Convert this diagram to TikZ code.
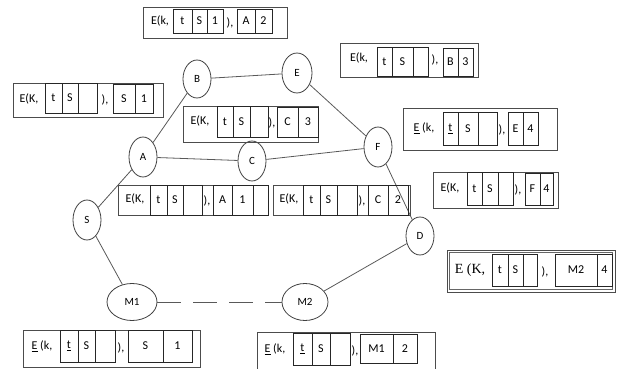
\documentclass[tikz,border=0pt]{standalone}
\usepackage{fontspec}
\setmainfont{Carlito}
\newfontfamily\serifb{Liberation Serif}
\usetikzlibrary{shapes.geometric,calc}
\tikzset{
 vert/.style={ellipse, draw=black!75, line width=0.8pt, inner sep=0pt, font=\fontsize{11}{12}\selectfont},
 edge/.style={draw=black!65, line width=0.8pt},
 outer/.style={draw=black!70, line width=0.9pt, inner sep=0pt},
 cell/.style={draw=black!85, line width=0.8pt, inner sep=0pt, font=\fontsize{12}{13}\selectfont},
 lbl/.style={inner sep=0pt, font=\fontsize{12}{13}\selectfont}
}
\newcommand\cellbox[6]{\node[cell, minimum width={#3pt-#2pt}, minimum height={#5pt-#4pt}] (#1) at ({(#2+#3)/2},{(#4+#5)/2}) {#6};}
\newcommand\outbox[5]{\node[outer, minimum width={#3pt-#2pt}, minimum height={#5pt-#4pt}] (#1) at ({(#2+#3)/2},{(#4+#5)/2}) {};}
\begin{document}
\begin{tikzpicture}[x=1pt,y=-1pt]
\useasboundingbox (0,0) rectangle (619,369);
% vertices
\node[vert, minimum width=28pt, minimum height=38pt] (B) at (197,79) {B};
\node[vert, minimum width=30pt, minimum height=40pt] (E) at (297,73) {E};
\node[vert, minimum width=28pt, minimum height=40pt] (A) at (143,157) {A};
\node[vert, minimum width=28pt, minimum height=40pt] (C) at (252,161) {C};
\node[vert, minimum width=28pt, minimum height=40pt] (F) at (378,147) {F};
\node[vert, minimum width=28pt, minimum height=40pt] (S) at (87,220) {S};
\node[vert, minimum width=28pt, minimum height=38pt] (D) at (420,236) {D};
\node[vert, minimum width=50pt, minimum height=37pt] (M1) at (132,302) {M1};
\node[vert, minimum width=46pt, minimum height=37pt] (M2) at (305,302) {M2};
% edges
\draw[edge] (S) -- (A);
\draw[edge] (A) -- (B);
\draw[edge] (B) -- (E);
\draw[edge] (E) -- (F);
\draw[edge] (A) -- (C);
\draw[edge] (C) -- (F);
\draw[edge] (F) -- (D);
\draw[edge] (D) -- (M2);
\draw[edge] (S) -- (M1);
\draw[edge, dash pattern=on 24pt off 12pt] (M1) -- (M2);
% box 1
\outbox{o1}{143}{287}{7}{38}
\node[lbl] (e1) at (160,21) {E(k,};
\cellbox{c1a}{173}{192}{9}{33}{t}
\cellbox{c1b}{192}{207}{9}{33}{S}
\cellbox{c1c}{207}{223}{9}{33}{1}
\node[lbl] (p1) at (230,23) {),};
\cellbox{c1d}{237}{255}{9}{33}{A}
\cellbox{c1e}{255}{272}{9}{33}{2}
% box 2
\outbox{o2}{340}{478}{43}{77}
\node[lbl] (e2) at (359,58) {E(k,};
\cellbox{c2a}{377}{392}{47}{76}{t}
\cellbox{c2b}{392}{413}{47}{76}{S}
\cellbox{c2c}{413}{428}{47}{76}{}
\node[lbl] (p2) at (435,60) {),};
\cellbox{c2d}{443}{458}{48}{76}{B}
\cellbox{c2e}{458}{473}{48}{76}{3}
% box 3
\outbox{o3}{13}{163}{83}{117}
\node[lbl] (e3) at (29,99) {E(K,};
\cellbox{c3a}{45}{62}{83}{113}{t}
\cellbox{c3b}{62}{78}{83}{113}{S}
\cellbox{c3c}{78}{97}{83}{113}{}
\node[lbl] (p3) at (105,100) {),};
\cellbox{c3d}{113}{135}{84}{113}{S}
\cellbox{c3e}{135}{153}{84}{113}{1}
% box 4
\outbox{o4}{183}{318}{106}{142}
\node[lbl] (e4) at (200,121) {E(K,};
\cellbox{c4a}{217}{233}{106}{137}{t}
\cellbox{c4b}{233}{250}{106}{137}{S}
\cellbox{c4c}{250}{268}{106}{137}{}
\node[lbl] (p4) at (272,123) {),};
\cellbox{c4d}{277}{298}{107}{137}{C}
\cellbox{c4e}{298}{318}{107}{137}{3}
% box 5
\outbox{o5}{403}{557}{108}{150}
\node[lbl] (e5) at (424,128) {\underline{E} (k,};
\cellbox{c5a}{443}{458}{112}{145}{\underline{t}}
\cellbox{c5b}{458}{478}{112}{145}{S}
\cellbox{c5c}{478}{497}{112}{145}{}
\node[lbl] (p5) at (502,130) {),};
\cellbox{c5d}{508}{523}{112}{145}{E}
\cellbox{c5e}{523}{538}{112}{145}{4}
% box 6
\outbox{o6}{433}{558}{172}{208}
\node[lbl] (e6) at (450,188) {E(K,};
\cellbox{c6a}{467}{482}{172}{205}{t}
\cellbox{c6b}{482}{498}{172}{205}{S}
\cellbox{c6c}{498}{513}{172}{205}{}
\node[lbl] (p6) at (518,190) {),};
\cellbox{c6d}{525}{540}{173}{205}{F}
\cellbox{c6e}{540}{553}{173}{205}{4}
% box 7
\outbox{o7}{118}{268}{185}{215}
\node[lbl] (e7) at (135,199) {E(K,};
\cellbox{c7a}{150}{167}{185}{215}{t}
\cellbox{c7b}{167}{183}{185}{215}{S}
\cellbox{c7c}{183}{202}{185}{215}{}
\node[lbl] (p7) at (207,201) {),};
\cellbox{c7d}{213}{232}{185}{215}{A}
\cellbox{c7e}{232}{253}{185}{215}{1}
\cellbox{c7f}{253}{268}{185}{215}{}
% box 8
\outbox{o8}{273}{410}{185}{215}
\node[lbl] (e8) at (289,199) {E(K,};
\cellbox{c8a}{303}{320}{185}{215}{t}
\cellbox{c8b}{320}{337}{185}{215}{S}
\cellbox{c8c}{337}{357}{185}{215}{}
\node[lbl] (p8) at (362,201) {),};
\cellbox{c8d}{368}{388}{185}{215}{C}
\cellbox{c8e}{388}{408}{185}{215}{2}
% box 9
\outbox{o9}{447}{615}{250}{292}
\draw[black!60, line width=0.6pt] ($(o9.north west)+(3,3)$) rectangle ($(o9.south east)+(-3,-3)$);
\node[lbl, font=\serifb\fontsize{14}{15}\selectfont] (e9) at (470,270) {E (K,};
\cellbox{c9a}{492}{508}{254}{286}{t}
\cellbox{c9b}{508}{523}{254}{286}{S}
\cellbox{c9c}{523}{537}{254}{286}{}
\node[lbl] (p9) at (545,272) {),};
\cellbox{c9d}{555}{597}{254}{286}{M2}
\cellbox{c9e}{597}{612}{254}{286}{4}
% box 10
\outbox{o10}{23}{200}{330}{367}
\node[lbl] (e10) at (42,346) {\underline{E} (k,};
\cellbox{c10a}{60}{78}{330}{362}{\underline{t}}
\cellbox{c10b}{78}{95}{330}{362}{S}
\cellbox{c10c}{95}{115}{330}{362}{}
\node[lbl] (p10) at (121,348) {),};
\cellbox{c10d}{128}{163}{330}{362}{S}
\cellbox{c10e}{163}{192}{330}{362}{1}
% box 11
\outbox{o11}{257}{435}{332}{370}
\node[lbl] (e11) at (275,349) {\underline{E} (k,};
\cellbox{c11a}{293}{312}{333}{365}{\underline{t}}
\cellbox{c11b}{312}{330}{333}{365}{S}
\cellbox{c11c}{330}{350}{333}{365}{}
\node[lbl] (p11) at (355,351) {),};
\cellbox{c11d}{360}{393}{334}{363}{M1}
\cellbox{c11e}{393}{417}{334}{363}{2}
\end{tikzpicture}
\end{document}
